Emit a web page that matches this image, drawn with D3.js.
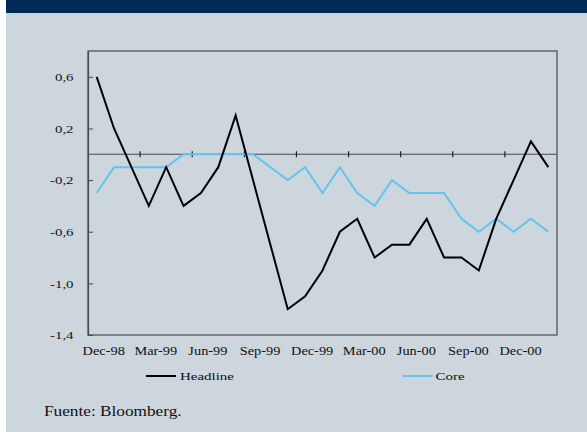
<!DOCTYPE html>
<html><head><meta charset="utf-8">
<script src="https://cdn.jsdelivr.net/npm/d3@7/dist/d3.min.js"></script>
<style>html,body{margin:0;padding:0;background:#fff;}svg{display:block;}</style>
</head><body>
<svg id="chart" width="587" height="432"></svg>
<script>
const categories = ["Dec-98","Jan-99","Feb-99","Mar-99","Apr-99","May-99","Jun-99","Jul-99","Aug-99","Sep-99","Oct-99","Nov-99",
  "Dec-99","Jan-00","Feb-00","Mar-00","Apr-00","May-00","Jun-00","Jul-00","Aug-00","Sep-00","Oct-00","Nov-00","Dec-00","Jan-01","Feb-01"];
const headline = [0.6,0.2,-0.1,-0.4,-0.1,-0.4,-0.3,-0.1,0.3,-0.2,-0.7,-1.2,-1.1,-0.9,-0.6,-0.5,-0.8,-0.7,-0.7,-0.5,-0.8,-0.8,-0.9,-0.5,-0.2,0.1,-0.1];
const core = [-0.3,-0.1,-0.1,-0.1,-0.1,0,0,0,0,0,-0.1,-0.2,-0.1,-0.3,-0.1,-0.3,-0.4,-0.2,-0.3,-0.3,-0.3,-0.5,-0.6,-0.5,-0.6,-0.5,-0.6];
const xTickLabels = ["Dec-98","Mar-99","Jun-99","Sep-99","Dec-99","Mar-00","Jun-00","Sep-00","Dec-00"];
const yTicks = [-1.4,-1.0,-0.6,-0.2,0.2,0.6];
const seriesNames = ["Headline","Core"];
const sourceText = "Fuente: Bloomberg.";

const svg = d3.select("#chart");
const FONT = "'Liberation Serif','Times New Roman',serif";
const frameCol = "#4a4a4a";

// background
svg.append("rect").attr("x",6).attr("y",0).attr("width",581).attr("height",432).attr("fill","#cdd5dd");
svg.append("rect").attr("x",6).attr("y",0).attr("width",581).attr("height",13).attr("fill","#002b56");

const L=88,R=557,T=51,B=335;
const x = d3.scaleBand().domain(categories).range([L,R]).padding(0);
const y = d3.scaleLinear().domain([-1.4,0.8]).range([B,T]);
const loc = d3.formatLocale({decimal:",",thousands:".",grouping:[3],currency:["",""],minus:"-"});
const fmt = loc.format(".1f");
const cx = d => x(d) + x.bandwidth()/2;

// frame
svg.append("rect").attr("x",L).attr("y",T).attr("width",R-L).attr("height",B-T)
  .attr("fill","none").attr("stroke",frameCol).attr("stroke-width",1.2);

// y axis
const gy = svg.append("g").attr("transform",`translate(${L},0)`)
  .call(d3.axisLeft(y).tickValues(yTicks).tickFormat(fmt).tickSizeInner(-5).tickSizeOuter(0));
gy.select(".domain").attr("stroke",frameCol).attr("stroke-width",1.2);
gy.selectAll(".tick line").attr("stroke",frameCol);
gy.selectAll(".tick text").attr("x",0).attr("dy","0.34em")
  .attr("transform","translate(-14.5,0) scale(1.35,1)")
  .attr("font-family",FONT).attr("font-size",11).attr("fill","#111");

// x axis
const xTickCats = categories.filter((c,i)=>i%3===0 && xTickLabels.includes(c));
const gx = svg.append("g").attr("transform",`translate(0,${B})`)
  .call(d3.axisBottom(x).tickValues(xTickCats).tickSize(0));
gx.select(".domain").remove();
gx.selectAll(".tick text").attr("y",0).attr("dy",0)
  .attr("transform","translate(7,20) scale(1.25,1)")
  .attr("font-family",FONT).attr("font-size",11.5).attr("fill","#111");

// zero line with cross ticks
svg.append("line").attr("x1",L).attr("x2",R).attr("y1",y(0)).attr("y2",y(0))
  .attr("stroke",frameCol).attr("stroke-width",1.2);
const crossCats = categories.filter((c,i)=>i>0 && i%3===0);
svg.append("g").selectAll("line").data(crossCats).join("line")
  .attr("x1",d=>x(d)).attr("x2",d=>x(d))
  .attr("y1",y(0)-3).attr("y2",y(0)+3)
  .attr("stroke","#222").attr("stroke-width",1.2);

// lines
const line = d3.line().x((d,i)=>cx(categories[i])).y(d=>y(d));
const colors = {Headline:"#000000", Core:"#62c3ee"};
svg.append("path").datum(core).attr("d",line).attr("fill","none")
  .attr("stroke",colors.Core).attr("stroke-width",2).attr("stroke-linejoin","miter");
svg.append("path").datum(headline).attr("d",line).attr("fill","none")
  .attr("stroke",colors.Headline).attr("stroke-width",2).attr("stroke-linejoin","miter");

// legend
const legendPos = [{x:146, tx:180},{x:402.5, tx:435.5}];
seriesNames.forEach((s,i)=>{
  const p = legendPos[i];
  svg.append("line").attr("x1",p.x).attr("x2",p.x+30).attr("y1",376).attr("y2",376)
    .attr("stroke",colors[s]).attr("stroke-width",2);
  svg.append("text").attr("transform",`translate(${p.tx},380) scale(1.36,1)`)
    .attr("font-family",FONT).attr("font-size",11).attr("fill","#111").text(s);
});

// source
svg.append("text").attr("transform","translate(44,416) scale(1.15,1)")
  .attr("font-family",FONT).attr("font-size",15).attr("fill","#111").text(sourceText);
</script>
</body></html>
